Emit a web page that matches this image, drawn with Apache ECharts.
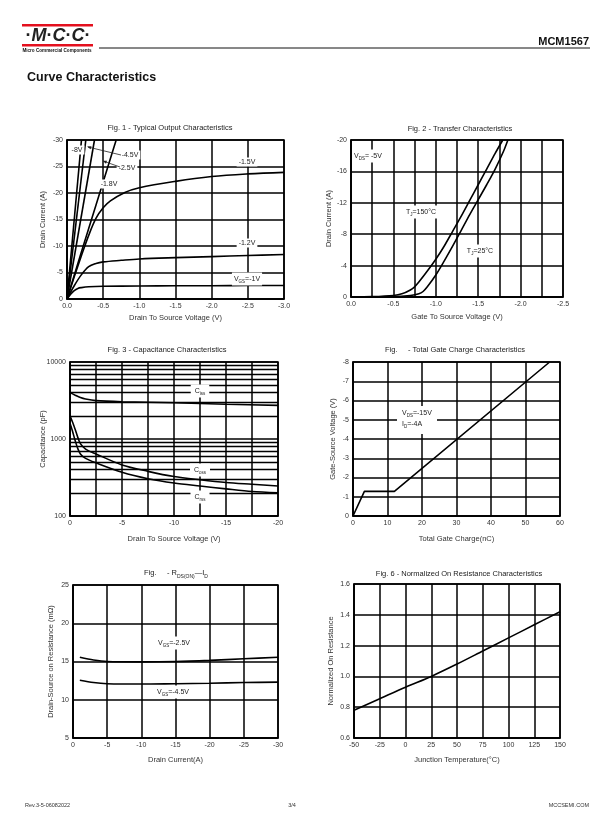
<!DOCTYPE html>
<html><head><meta charset="utf-8">
<script src="https://cdn.jsdelivr.net/npm/echarts@6/dist/echarts.min.js"></script>
<style>html,body{margin:0;padding:0;background:#fff}#c{width:612px;height:825px}</style>
</head><body><div id="c"></div>
<script>
// ---------- DATA ----------
// Fig 1 - Typical Output Characteristics  [VDS (V), ID (A)]
const f1_vgs1  = [[0,0],[-0.05,-0.9],[-0.1,-1.6],[-0.15,-2.0],[-0.2,-2.15],[-0.3,-2.3],[-0.5,-2.4],[-1,-2.45],[-1.5,-2.5],[-2,-2.5],[-2.5,-2.55],[-3,-2.55]];
const f1_vgs12 = [[0,0],[-0.1,-2.5],[-0.2,-4.6],[-0.3,-6.1],[-0.4,-6.7],[-0.5,-7.0],[-0.75,-7.3],[-1,-7.55],[-1.5,-7.8],[-2,-8.0],[-2.5,-8.2],[-3,-8.4]];
const f1_vgs15 = [[0,0],[-0.1,-4.2],[-0.2,-8.2],[-0.3,-12],[-0.4,-15.2],[-0.5,-17.2],[-0.6,-18.5],[-0.8,-20.1],[-1.0,-21],[-1.5,-22.2],[-2,-23.1],[-2.5,-23.6],[-3,-23.9]];
const f1_vgs18 = [[0,0],[-0.2,-8.9],[-0.4,-17.7],[-0.55,-24.3],[-0.68,-30]];
const f1_vgs25 = [[0,0],[-0.38,-30]];
const f1_vgs45 = [[0,0],[-0.26,-30]];
const f1_vgs8  = [[0,0],[-0.2,-30]];
// Fig 2 - Transfer Characteristics [VGS (V), ID (A)]
const f2_tj150 = [[0,0],[-0.25,-0.05],[-0.5,-0.2],[-0.6,-0.4],[-0.7,-0.9],[-0.75,-1.3],[-0.8,-1.9],[-0.9,-3.3],[-1.0,-4.8],[-1.1,-6.5],[-1.2,-8.4],[-1.3,-10.3],[-1.4,-12.3],[-1.5,-14.3],[-1.6,-16.3],[-1.7,-18.3],[-1.79,-20]];
const f2_tj25  = [[0,0],[-0.5,-0.05],[-0.7,-0.2],[-0.8,-0.4],[-0.85,-0.7],[-0.9,-1.3],[-1.0,-2.8],[-1.1,-4.6],[-1.2,-6.5],[-1.3,-8.5],[-1.4,-10.5],[-1.5,-12.4],[-1.6,-14.3],[-1.7,-16.3],[-1.8,-18.6],[-1.85,-20]];
// Fig 3 - Capacitance [VDS (V), C (pF)]
const f3_ciss = [[0,4000],[-0.5,3700],[-1,3450],[-1.5,3300],[-2.5,3150],[-5,3050],[-10,2950],[-15,2830],[-20,2730]];
const f3_coss = [[0,2000],[-0.25,1650],[-0.5,1330],[-0.75,1050],[-1,870],[-1.5,740],[-2.5,640],[-5,460],[-7.5,380],[-10,325],[-12.5,295],[-15,272],[-17.5,258],[-20,245]];
const f3_crss = [[0,1600],[-0.25,1250],[-0.5,950],[-0.75,750],[-1,640],[-1.5,560],[-2.5,490],[-5,370],[-7.5,305],[-10,268],[-12.5,245],[-15,225],[-17.5,208],[-20,200]];
const f3_minor = [200,300,400,500,600,700,800,900,2000,3000,4000,5000,6000,7000,8000,9000];
// Fig 4 - Total Gate Charge [Qg (nC), VGS (V)]
const f4_qg = [[0,0],[3.3,-1.28],[12,-1.28],[57,-8]];
// Fig 5 - RDS(ON) vs ID [ID (A), R (mOhm)]
const f5_vgs25 = [[-1,15.55],[-3,15.2],[-5,15.0],[-10,14.95],[-15,15.0],[-20,15.15],[-25,15.35],[-30,15.55]];
const f5_vgs45 = [[-1,12.55],[-3,12.25],[-5,12.1],[-10,12.05],[-15,12.1],[-20,12.15],[-25,12.25],[-30,12.3]];
// Fig 6 - Normalized On Resistance [Tj (C), norm]
const f6_norm = [[-50,0.78],[-25,0.855],[0,0.93],[25,1.0],[50,1.08],[75,1.165],[100,1.25],[125,1.335],[150,1.42]];

// ---------- LAYOUT / STYLE ----------
const FONT = '"Liberation Sans", Arial, sans-serif';
const grids = [
  {left:67, top:140, width:217, height:159},
  {left:351, top:140, width:212, height:157},
  {left:70, top:362, width:208, height:154},
  {left:353, top:362, width:207, height:154},
  {left:73, top:585, width:205, height:153},
  {left:354, top:584, width:206, height:154}
].map(g => Object.assign({show:true, borderColor:'#000', borderWidth:1.5, backgroundColor:'transparent'}, g));

const lineSty = {color:'#000', width:1.5};
function axis(gi, o, labelFmt, nameGap) {
  return Object.assign({
    gridIndex: gi, type: 'value',
    axisLine: {show:true, onZero:false, lineStyle: lineSty},
    axisTick: {show:false},
    splitLine: {show:true, lineStyle: lineSty},
    axisLabel: {fontSize:7, color:'#333', fontFamily:FONT, margin:4, formatter: labelFmt, showMinLabel:true, showMaxLabel:true, hideOverlap:false},
    nameLocation: 'middle', nameGap: nameGap,
    nameTextStyle: {fontSize:7.5, color:'#333', fontFamily:FONT}
  }, o);
}
const fx1 = v => v.toFixed(1);
const fInt = v => String(Math.round(v));
const xAxes = [
  axis(0, {min:-3, max:0, interval:0.5, inverse:true, name:'Drain To Source Voltage (V)'}, fx1, 15),
  axis(1, {min:-2.5, max:0, interval:0.25, inverse:true, name:'Gate To Source Voltage (V)'},
       v => (Math.abs(Math.round(v*100)) % 50 === 0 ? v.toFixed(1) : ''), 16),
  axis(2, {min:-20, max:0, interval:2.5, inverse:true, name:'Drain To Source Voltage (V)'},
       v => (Math.abs(Math.round(v*10)) % 50 === 0 ? String(Math.round(v)) : ''), 19),
  axis(3, {min:0, max:60, interval:10, name:'Total Gate Charge(nC)'}, fInt, 19),
  axis(4, {min:-30, max:0, interval:5, inverse:true, name:'Drain Current(A)'}, fInt, 18),
  axis(5, {min:-50, max:150, interval:25, name:'Junction Temperature(°C)'}, fInt, 18)
];
const yAxes = [
  axis(0, {min:-30, max:0, interval:5, inverse:true, name:'Drain Current (A)'}, fInt, 20),
  axis(1, {min:-20, max:0, interval:4, inverse:true, name:'Drain Current (A)'}, fInt, 18),
  axis(2, {type:'log', logBase:10, min:100, max:10000, name:'Capacitance (pF)', nameMoveOverlap:false}, fInt, 23),
  axis(3, {min:-8, max:0, interval:1, inverse:true, name:'Gate-Source Voltage (V)'}, fInt, 16),
  axis(4, {min:5, max:25, interval:5, name:'Drain-Source on Resistance (mΩ)'}, fInt, 18),
  axis(5, {min:0.6, max:1.6, interval:0.2, name:'Normalized On Resistance'}, fx1, 19)
];

function S(gi, data, smooth, extra) {
  return Object.assign({type:'line', xAxisIndex:gi, yAxisIndex:gi, data:data, showSymbol:false, silent:true,
    smooth: smooth, lineStyle:{color:'#000', width:1.6}, itemStyle:{color:'#000'}, clip:true, z:5}, extra || {});
}
const series = [
  S(0, f1_vgs1, 0.35), S(0, f1_vgs12, 0.35), S(0, f1_vgs15, 0.35), S(0, f1_vgs18, 0.2),
  S(0, f1_vgs25, false), S(0, f1_vgs45, false), S(0, f1_vgs8, false),
  S(1, f2_tj150, 0.3), S(1, f2_tj25, 0.3),
  S(2, f3_ciss, 0.3, {markLine:{silent:true, symbol:['none','none'], label:{show:false},
      lineStyle:{color:'#000', width:1.3, type:'solid'}, data: f3_minor.map(v => ({yAxis:v}))}}),
  S(2, f3_coss, 0.3), S(2, f3_crss, 0.3),
  S(3, f4_qg, false),
  S(4, f5_vgs25, 0.3), S(4, f5_vgs45, 0.3),
  S(5, f6_norm, 0.3)
];

// ---------- TEXT ----------
const rich = {
  n: {fontSize:7, fontFamily:FONT, color:'#222', lineHeight:11},
  s: {fontSize:4.5, fontFamily:FONT, color:'#222', lineHeight:5, verticalAlign:'bottom'},
  t: {fontSize:7.5, fontFamily:FONT, color:'#222', lineHeight:12},
  ts: {fontSize:5, fontFamily:FONT, color:'#222', lineHeight:5, verticalAlign:'bottom'}
};
function T(x, y, text, o) {
  return {type:'text', x:x, y:y, z:100, silent:true,
    style: Object.assign({text:text, fill:'#222', fontSize:7, fontFamily:FONT, align:'center', verticalAlign:'middle', rich:rich}, o || {})};
}
const WB = {backgroundColor:'#fff', padding:[1,2]};
const graphics = [
  // header
  {type:'rect', z:100, shape:{x:22, y:24, width:71, height:2.5}, style:{fill:'#e3101e'}},
  {type:'rect', z:100, shape:{x:22, y:44, width:71, height:2.5}, style:{fill:'#e3101e'}},
  T(58, 36, '{d|·}{m|M}{d|·}{m|C}{d|·}{m|C}{d|·}', {rich:{
      m:{fontSize:18, fontWeight:'bold', fontStyle:'italic', fontFamily:FONT, color:'#111'},
      d:{fontSize:18, fontWeight:'bold', fontFamily:FONT, color:'#e3101e'}}}),
  T(57, 51, 'Micro Commercial Components', {fontSize:4.6, fontWeight:'bold', fill:'#111'}),
  {type:'line', z:100, shape:{x1:99, y1:48, x2:590, y2:48}, style:{stroke:'#111', lineWidth:1}},
  T(589, 42, 'MCM1567', {align:'right', fontSize:11, fontWeight:'bold', fill:'#111'}),
  T(27, 78, 'Curve Characteristics', {align:'left', fontSize:12.5, fontWeight:'bold', fill:'#111'}),
  // footer
  T(25, 805, 'Rev.3-5-06082022', {align:'left', fontSize:5.5, fill:'#333'}),
  T(292, 805, '3/4', {fontSize:5.5, fill:'#333'}),
  T(589, 805, 'MCCSEMI.COM', {align:'right', fontSize:5.5, fill:'#333'}),
  // titles
  T(170, 128, 'Fig. 1 - Typical Output Characteristics', {fontSize:7.5}),
  T(460, 129, 'Fig. 2 - Transfer Characteristics', {fontSize:7.5}),
  T(167, 350, 'Fig. 3 - Capacitance Characteristics', {fontSize:7.5}),
  T(455, 350, 'Fig.     - Total Gate Charge Characteristics', {fontSize:7.5}),
  T(176, 573, '{t|Fig.     - R}{ts|DS(ON)}{t|—I}{ts|D}', {}),
  T(459, 574, 'Fig. 6 - Normalized On Resistance Characteristics', {fontSize:7.5}),
  // Fig 1 annotations
  T(247, 162, '-1.5V', WB), T(247, 243, '-1.2V', WB),
  T(247, 279, '{n|V}{s|GS}{n|=-1V}', WB),
  T(77, 150, '-8V', WB), T(130, 155, '-4.5V', WB), T(127, 168, '-2.5V', WB), T(109, 184, '-1.8V', WB),
  {type:'line', z:101, shape:{x1:88, y1:147, x2:121, y2:155}, style:{stroke:'#222', lineWidth:0.8}},
  {type:'polygon', z:101, shape:{points:[[87,146.5],[91.5,146.3],[90.6,149.2]]}, style:{fill:'#222'}},
  {type:'line', z:101, shape:{x1:103, y1:161, x2:120, y2:167}, style:{stroke:'#222', lineWidth:0.8}},
  {type:'polygon', z:101, shape:{points:[[102.5,160.8],[107,160.8],[106,163.8]]}, style:{fill:'#222'}},
  // Fig 2 annotations
  T(368, 156, '{n|V}{s|DS}{n|= -5V}', WB),
  T(421, 212, '{n|T}{s|J}{n|=150°C}', WB),
  T(480, 251, '{n|T}{s|J}{n|=25°C}', WB),
  // Fig 3 annotations
  T(200, 391, '{n|C}{s|iss}', {backgroundColor:'#fff', padding:[1,4]}),
  T(200, 470, '{n|C}{s|oss}', {backgroundColor:'#fff', padding:[1,4]}),
  T(200, 497, '{n|C}{s|rss}', {backgroundColor:'#fff', padding:[1,4]}),
  // Fig 4 annotations
  {type:'rect', z:99, shape:{x:397, y:406, width:40, height:28}, style:{fill:'#fff'}},
  T(402, 413, '{n|V}{s|DS}{n|=-15V}', {align:'left'}),
  T(402, 424, '{n|I}{s|D}{n|=-4A}', {align:'left'}),
  // Fig 5 annotations
  T(174, 643, '{n|V}{s|GS}{n|=-2.5V}', WB),
  T(173, 692, '{n|V}{s|GS}{n|=-4.5V}', WB)
];

const chart = echarts.init(document.getElementById('c'), null, {renderer:'canvas', width:612, height:825});
chart.setOption({
  animation:false,
  backgroundColor:'#fff',
  textStyle:{fontFamily:FONT},
  grid: grids, xAxis: xAxes, yAxis: yAxes, series: series, graphic: graphics
});
</script>
</body></html>
